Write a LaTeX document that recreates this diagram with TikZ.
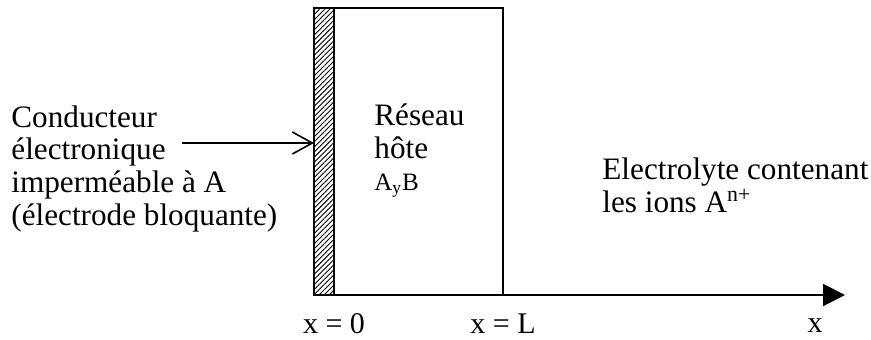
\documentclass[tikz,border=0pt]{standalone}
\usepackage{fontspec}
\setmainfont{Liberation Serif}
\usetikzlibrary{arrows.meta, positioning, calc, patterns.meta}
\tikzset{
  wall/.style={draw, line width=0.9pt, pattern={Lines[angle=45, distance=1.8pt, line width=0.45pt]}, minimum width=10pt, minimum height=143.5pt, inner sep=0pt, outer sep=0pt},
  host/.style={draw, line width=1pt, minimum width=84.5pt, minimum height=143.5pt, inner sep=0pt, outer sep=0pt},
  ptr/.style={-{Straight Barb[length=10pt, width=11pt, line width=0.8pt]}, line width=0.8pt},
  axis/.style={-{Triangle[length=11pt, width=11pt]}, line width=1pt},
  lbl/.style={align=left, inner sep=0pt, font=\fontsize{15.6}{16.3}\selectfont},
  tick/.style={inner sep=0pt, font=\fontsize{15}{16}\selectfont},
  small/.style={inner sep=0pt, font=\fontsize{12.5}{14}\selectfont},
}
\begin{document}
\begin{tikzpicture}[x=0.5pt, y=-0.5pt]
    \useasboundingbox (0,0) rectangle (871,339);
    \node[wall, anchor=south west] (wall) at (314,295) {};
    \node[host, anchor=south west] (host) at (wall.south east) {};
    % multi-line texts: base is the last line
    \node[lbl, anchor=base west] (cond) at (11,225) {Conducteur\\électronique\\imperméable à A\\(électrode bloquante)};
    \node[lbl, anchor=base west] (reseau) at (374,158) {Réseau\\hôte};
    \node[small, anchor=base west] (ayb) at (374,190) {A\textsubscript{y}B};
    \node[lbl, anchor=base west] (elec) at (602,212) {Electrolyte contenant\\les ions A\textsuperscript{n+}};
    \coordinate (ptr0) at (182,143);
    \coordinate (xend) at (845,295);
    \draw[ptr] (ptr0) -- (ptr0 -| wall.west);
    \draw[axis] (wall.south west) -- (xend);
    \node[tick, anchor=base] (x0) at (host.south west |- 0,333) {x = 0};
    \node[tick, anchor=base] (xL) at (host.south east |- 0,333) {x = L};
    \node[tick, anchor=base] (xlab) at (815,332) {x};
  \end{tikzpicture}
\end{document}
